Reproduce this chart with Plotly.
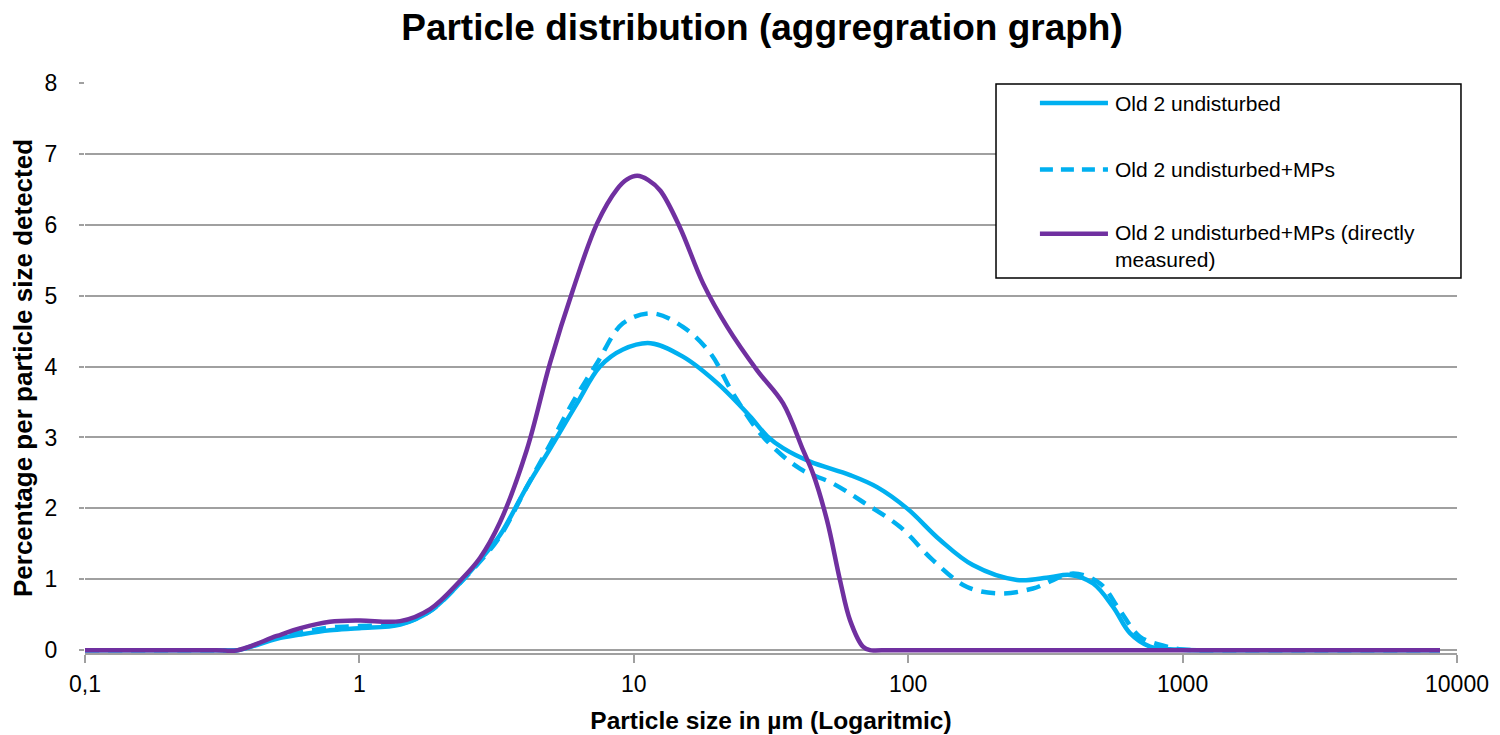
import plotly.graph_objects as go

# Particle size classes (µm) and percentage per class for each sample
size_undisturbed = [0.1, 0.3, 0.36, 0.5, 0.61, 0.78, 1.0, 1.41, 1.81, 2.33, 2.75, 3.25, 4.07,
                    4.95, 6.21, 7.53, 9.13, 11.5, 15.1, 20.1, 26.5, 30.6, 35.0, 43.9, 61.4,
                    77.0, 99.0, 131, 172, 249, 329, 389, 472, 558, 643, 761, 954, 1157, 1300, 8670]
pct_undisturbed = [0, 0, 0, 0.16, 0.22, 0.28, 0.31, 0.36, 0.55, 0.95, 1.27, 1.62, 2.3,
                   2.84, 3.48, 4.0, 4.24, 4.33, 4.14, 3.77, 3.3, 3.02, 2.85, 2.66, 2.47,
                   2.3, 2.0, 1.55, 1.2, 0.99, 1.03, 1.06, 0.94, 0.61, 0.24, 0.05, 0.01, 0, 0, 0]

size_mps = [0.1, 0.3, 0.36, 0.5, 0.61, 0.78, 1.0, 1.41, 1.81, 2.33, 2.75, 3.25, 4.07, 4.95,
            6.0, 7.35, 9.13, 11.7, 15.1, 19.0, 23.0, 29.6, 40.3, 53.2, 68.4, 93.3, 123,
            164, 216, 285, 399, 500, 591, 699, 877, 1000, 1157, 1300, 8670]
pct_mps = [0, 0, 0, 0.18, 0.25, 0.32, 0.34, 0.37, 0.55, 0.95, 1.25, 1.6, 2.3, 2.9,
           3.5, 4.05, 4.61, 4.75, 4.56, 4.19, 3.62, 3.01, 2.56, 2.35, 2.09, 1.74, 1.27,
           0.89, 0.8, 0.87, 1.08, 0.94, 0.56, 0.19, 0.05, 0.01, 0, 0, 0]

size_direct = [0.1, 0.3, 0.36, 0.5, 0.61, 0.78, 1.0, 1.41, 1.81, 2.33, 2.75, 3.25, 4.07, 4.95,
               6.0, 7.35, 8.68, 9.45, 10.3, 11.3, 12.5, 14.7, 17.9, 21.9, 28.1, 35.0, 41.4,
               45.0, 50.6, 56.4, 61.4, 68.4, 72.6, 80, 8670]
pct_direct = [0, 0, 0, 0.2, 0.31, 0.4, 0.42, 0.41, 0.58, 0.98, 1.3, 1.8, 2.82, 4.05,
              5.08, 6.02, 6.5, 6.64, 6.69, 6.63, 6.48, 5.97, 5.17, 4.56, 3.95, 3.48, 2.82,
              2.49, 1.83, 0.99, 0.42, 0.05, 0, 0, 0]

series_names = ["Old 2 undisturbed", "Old 2 undisturbed+MPs",
                "Old 2 undisturbed+MPs (directly<br>measured)"]

x_tick_vals = [0.1, 1, 10, 100, 1000, 10000]
x_tick_text = ["0,1", "1", "10", "100", "1000", "10000"]
y_tick_vals = [0, 1, 2, 3, 4, 5, 6, 7, 8]

BLUE = "#00B0F0"
PURPLE = "#7030A0"
GRID = "#A0A0A0"
FONT = "Liberation Sans, Arial, sans-serif"
SMOOTH = 1.0

fig = go.Figure()
fig.add_trace(go.Scatter(x=size_undisturbed, y=pct_undisturbed, mode="lines",
                         line=dict(color=BLUE, width=4.5, shape="spline", smoothing=SMOOTH),
                         name=series_names[0], showlegend=False))
fig.add_trace(go.Scatter(x=size_mps, y=pct_mps, mode="lines",
                         line=dict(color=BLUE, width=4.5, dash="14px,9px",
                                   shape="spline", smoothing=SMOOTH),
                         name=series_names[1], showlegend=False))
fig.add_trace(go.Scatter(x=size_direct, y=pct_direct, mode="lines",
                         line=dict(color=PURPLE, width=4.5, shape="spline", smoothing=SMOOTH),
                         name=series_names[2], showlegend=False))

# Boxed legend with long line samples
legend_shapes = [dict(type="rect", xref="paper", yref="paper",
                      x0=0.664, x1=1.0029, y0=0.6578, y1=0.9982,
                      line=dict(color="black", width=1.5), fillcolor="white", layer="above")]
row_y = [0.9647, 0.8483, 0.7354]
row_text_y = [0.9647, 0.8483, 0.7134]
row_styles = [dict(color=BLUE, width=4.5), dict(color=BLUE, width=4.5, dash="13px,8px"),
              dict(color=PURPLE, width=4.5)]
annotations = []
for ry, ty, st, name in zip(row_y, row_text_y, row_styles, series_names):
    legend_shapes.append(dict(type="line", xref="paper", yref="paper",
                              x0=0.696, x1=0.7456, y0=ry, y1=ry, line=st, layer="above"))
    annotations.append(dict(xref="paper", yref="paper", x=0.7495, y=ty, text=name,
                            showarrow=False, xanchor="left", yanchor="middle", align="left",
                            font=dict(family=FONT, size=21, color="black")))

fig.update_layout(
    width=1500, height=735,
    margin=dict(l=85, r=43, t=83, b=82),
    paper_bgcolor="white", plot_bgcolor="white",
    title=dict(text="<b>Particle distribution (aggregration graph)</b>",
               x=0.508, xref="container", xanchor="center",
               y=0.963, yref="container", yanchor="middle",
               font=dict(family=FONT, size=37, color="black")),
    shapes=legend_shapes,
    annotations=annotations,
    showlegend=False,
)

fig.update_xaxes(type="log", range=[-1, 4], automargin=False,
                 tickvals=x_tick_vals, ticktext=x_tick_text,
                 showgrid=False, zeroline=False,
                 showline=True, linecolor=GRID, linewidth=1.5,
                 ticks="outside", ticklen=8, tickwidth=1.5, tickcolor=GRID,
                 ticklabelstandoff=2,
                 tickfont=dict(family=FONT, size=23, color="black"),
                 title=dict(text="<b>Particle size in µm (Logaritmic)</b>",
                            font=dict(family=FONT, size=24.5, color="black"), standoff=16))

fig.update_yaxes(range=[-0.04, 8], tickvals=y_tick_vals, automargin=False,
                 showgrid=True, gridcolor=GRID, gridwidth=1.5,
                 zeroline=True, zerolinecolor=GRID, zerolinewidth=1.5,
                 showline=False,
                 ticks="outside", ticklen=5, tickwidth=1.5, tickcolor=GRID,
                 ticklabelstandoff=17,
                 tickfont=dict(family=FONT, size=23, color="black"),
                 title=dict(text="<b>Percentage per particle size detected</b>",
                            font=dict(family=FONT, size=26, color="black"), standoff=4))

fig.write_html("out.html")
